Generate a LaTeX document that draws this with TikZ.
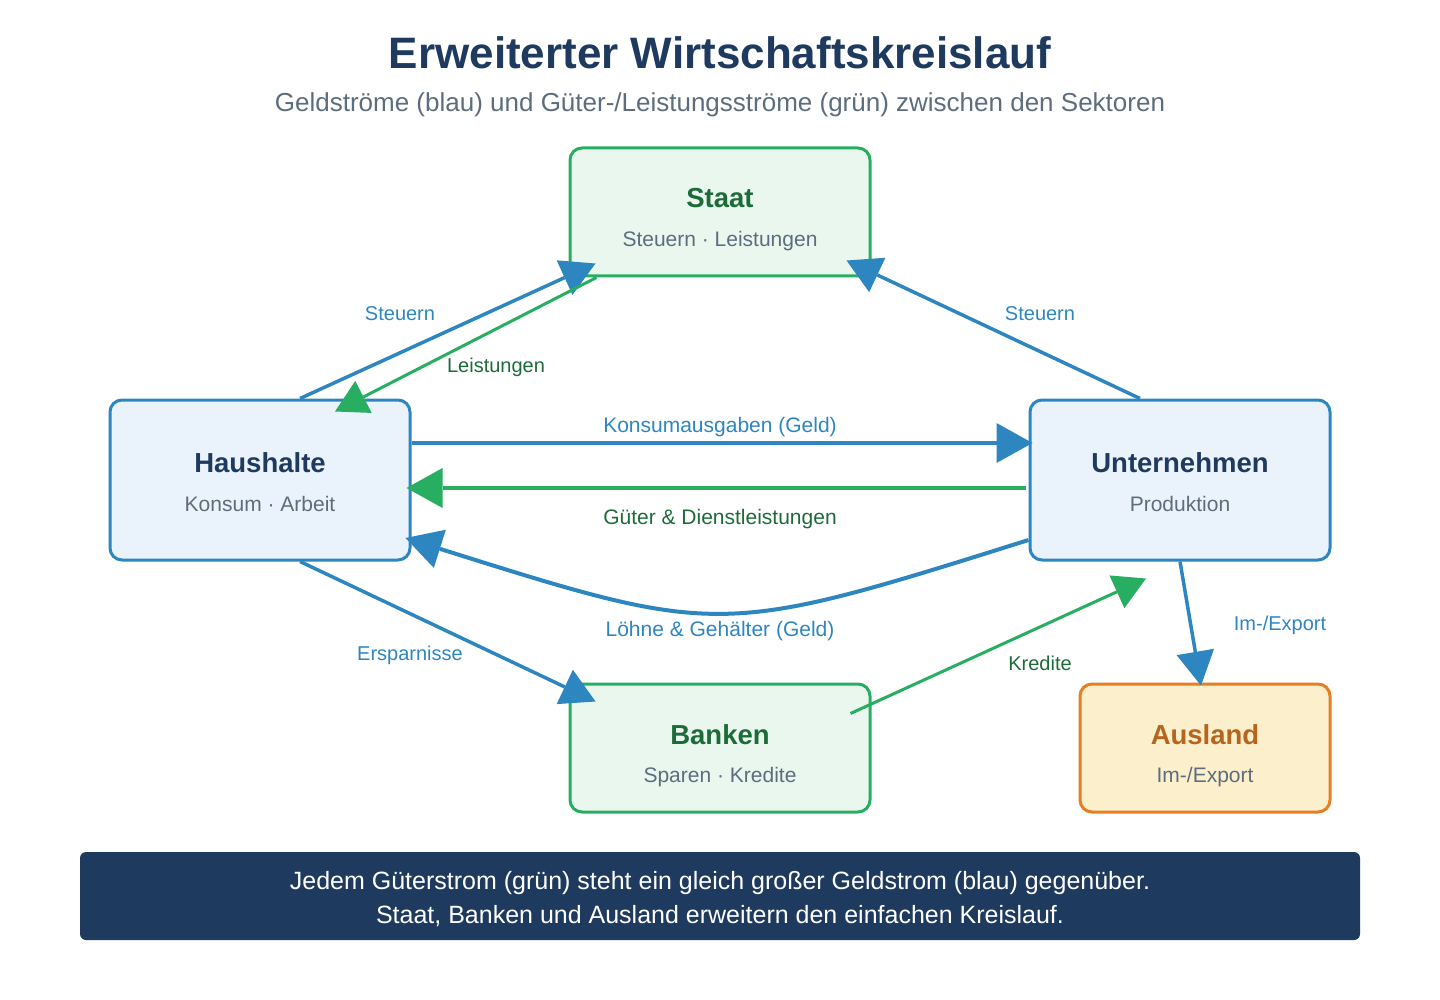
\documentclass[tikz,border=0pt]{standalone}
\usepackage{fontspec}
\setmainfont{Liberation Sans}
\usetikzlibrary{arrows.meta,calc}
\definecolor{cblue}{HTML}{2E86C1}
\definecolor{cbluefill}{HTML}{EAF2FB}
\definecolor{cgreen}{HTML}{27AE60}
\definecolor{cgreenfill}{HTML}{E9F7EE}
\definecolor{cdkgreen}{HTML}{1E6B3A}
\definecolor{cnavy}{HTML}{1F3A5F}
\definecolor{cgray}{HTML}{5D6D7E}
\definecolor{corange}{HTML}{E67E22}
\definecolor{corangefill}{HTML}{FCEFCC}
\definecolor{cdkorange}{HTML}{B5651D}
\begin{document}
\begin{tikzpicture}[x=1pt,y=-1pt,
  box/.style={draw, line width=3pt, rounded corners=12pt, inner sep=0pt, minimum width=300pt},
  bluebox/.style={box, draw=cblue, fill=cbluefill, minimum height=160pt},
  greenbox/.style={box, draw=cgreen, fill=cgreenfill, minimum height=128pt},
  orangebox/.style={box, draw=corange, fill=corangefill, minimum height=128pt, minimum width=250pt},
  boxtitle/.style={anchor=base, inner sep=0pt, font=\fontsize{27.5}{32}\selectfont\bfseries},
  boxsub/.style={anchor=base, inner sep=0pt, text=cgray, font=\fontsize{21}{25}\selectfont},
  lbl/.style={anchor=base, inner sep=0pt, font=\fontsize{20}{23}\selectfont},
  lbllong/.style={anchor=base, inner sep=0pt, font=\fontsize{21}{24}\selectfont},
  flowb/.style={draw=cblue, line width=4pt, -{Triangle[length=36pt,width=40pt,line width=0pt]}},
  flowbt/.style={draw=cblue, line width=3.5pt, -{Triangle[length=34pt,width=38pt,line width=0pt]}},
  flowg/.style={draw=cgreen, line width=4pt, -{Triangle[length=36pt,width=40pt,line width=0pt]}},
  flowgt/.style={draw=cgreen, line width=3pt, -{Triangle[length=32pt,width=36pt,line width=0pt]}},
]
\useasboundingbox (0,0) rectangle (1440,1000);

% title
\node[anchor=base, inner sep=0pt, text=cnavy, font=\fontsize{44}{52}\selectfont\bfseries] (title) at (720,69) {Erweiterter Wirtschaftskreislauf};
\node[anchor=base, inner sep=0pt, text=cgray, font=\fontsize{26}{30}\selectfont] (subtitle) at (720,112) {Geldströme (blau) und Güter-/Leistungsströme (grün) zwischen den Sektoren};

% boxes
\node[greenbox] (st) at (720,212) {};
\node[bluebox] (hh) at (260,480) {};
\node[bluebox] (un) at (1180,480) {};
\node[greenbox] (bk) at (720,748) {};
\node[orangebox] (au) at (1205,748) {};

\node[boxtitle, text=cdkgreen] (sttitle) at (720,208) {Staat};
\node[boxsub] (stsub) at (720,246.5) {Steuern · Leistungen};
\node[boxtitle, text=cnavy] (hhtitle) at (260,472) {Haushalte};
\node[boxsub] (hhsub) at (260,511.5) {Konsum · Arbeit};
\node[boxtitle, text=cnavy] (untitle) at (1180,472) {Unternehmen};
\node[boxsub] (unsub) at (1180,511.5) {Produktion};
\node[boxtitle, text=cdkgreen] (bktitle) at (720,744) {Banken};
\node[boxsub] (bksub) at (720,782.5) {Sparen · Kredite};
\node[boxtitle, text=cdkorange] (autitle) at (1205,744) {Ausland};
\node[boxsub] (ausub) at (1205,782.5) {Im-/Export};

% connectors
\draw[flowbt] ([xshift=40pt]hh.north) -- ([xshift=27pt,yshift=14pt]st.south west);
\draw[flowgt] ([xshift=28pt]st.south west) -- ([xshift=75pt,yshift=-13pt]hh.north);
\draw[flowbt] ([xshift=-40pt]un.north) -- ([xshift=-25pt,yshift=17pt]st.south east);
\draw[flowb] ([yshift=37pt]hh.east) -- ([xshift=4pt,yshift=37pt]un.west);
\draw[flowg] ([xshift=-3pt,yshift=-8pt]un.west) -- ([xshift=-5pt,yshift=-8pt]hh.east);
\draw[flowb] ([yshift=-60pt]un.west) .. controls (720,637) and (720,637) .. ([xshift=-6pt,yshift=-58pt]hh.east);
\draw[flowbt] ([xshift=40pt]hh.south) -- ([xshift=27pt,yshift=-19pt]bk.north west);
\draw[flowgt] ([xshift=-21pt,yshift=-31pt]bk.north east) -- ([xshift=-34pt,yshift=-17pt]un.south);
\draw[flowbt] (un.south) -- ([xshift=-4pt,yshift=-3pt]au.north);

% labels
\node[lbl, text=cblue] (l1) at (400,320) {Steuern};
\node[lbl, text=cdkgreen] (l2) at (496,372) {Leistungen};
\node[lbl, text=cblue] (l3) at (1040,320) {Steuern};
\node[lbllong, text=cblue] (l4) at (720,432) {Konsumausgaben (Geld)};
\node[lbllong, text=cdkgreen] (l5) at (720,524) {Güter \& Dienstleistungen};
\node[lbllong, text=cblue] (l6) at (720,636) {Löhne \& Gehälter (Geld)};
\node[lbl, text=cblue] (l7) at (410,660) {Ersparnisse};
\node[lbl, text=cdkgreen] (l8) at (1040,670) {Kredite};
\node[lbl, text=cblue] (l9) at (1280,630) {Im-/Export};

% footer
\node[fill=cnavy, rounded corners=6pt, minimum width=1280pt, minimum height=88pt, inner sep=0pt] (footer) at (720,896) {};
\node[anchor=base, inner sep=0pt, text=white, font=\fontsize{25}{29}\selectfont] (f1) at (720,889) {Jedem Güterstrom (grün) steht ein gleich großer Geldstrom (blau) gegenüber.};
\node[anchor=base, inner sep=0pt, text=white, font=\fontsize{25}{29}\selectfont] (f2) at (720,923) {Staat, Banken und Ausland erweitern den einfachen Kreislauf.};
\end{tikzpicture}
\end{document}
